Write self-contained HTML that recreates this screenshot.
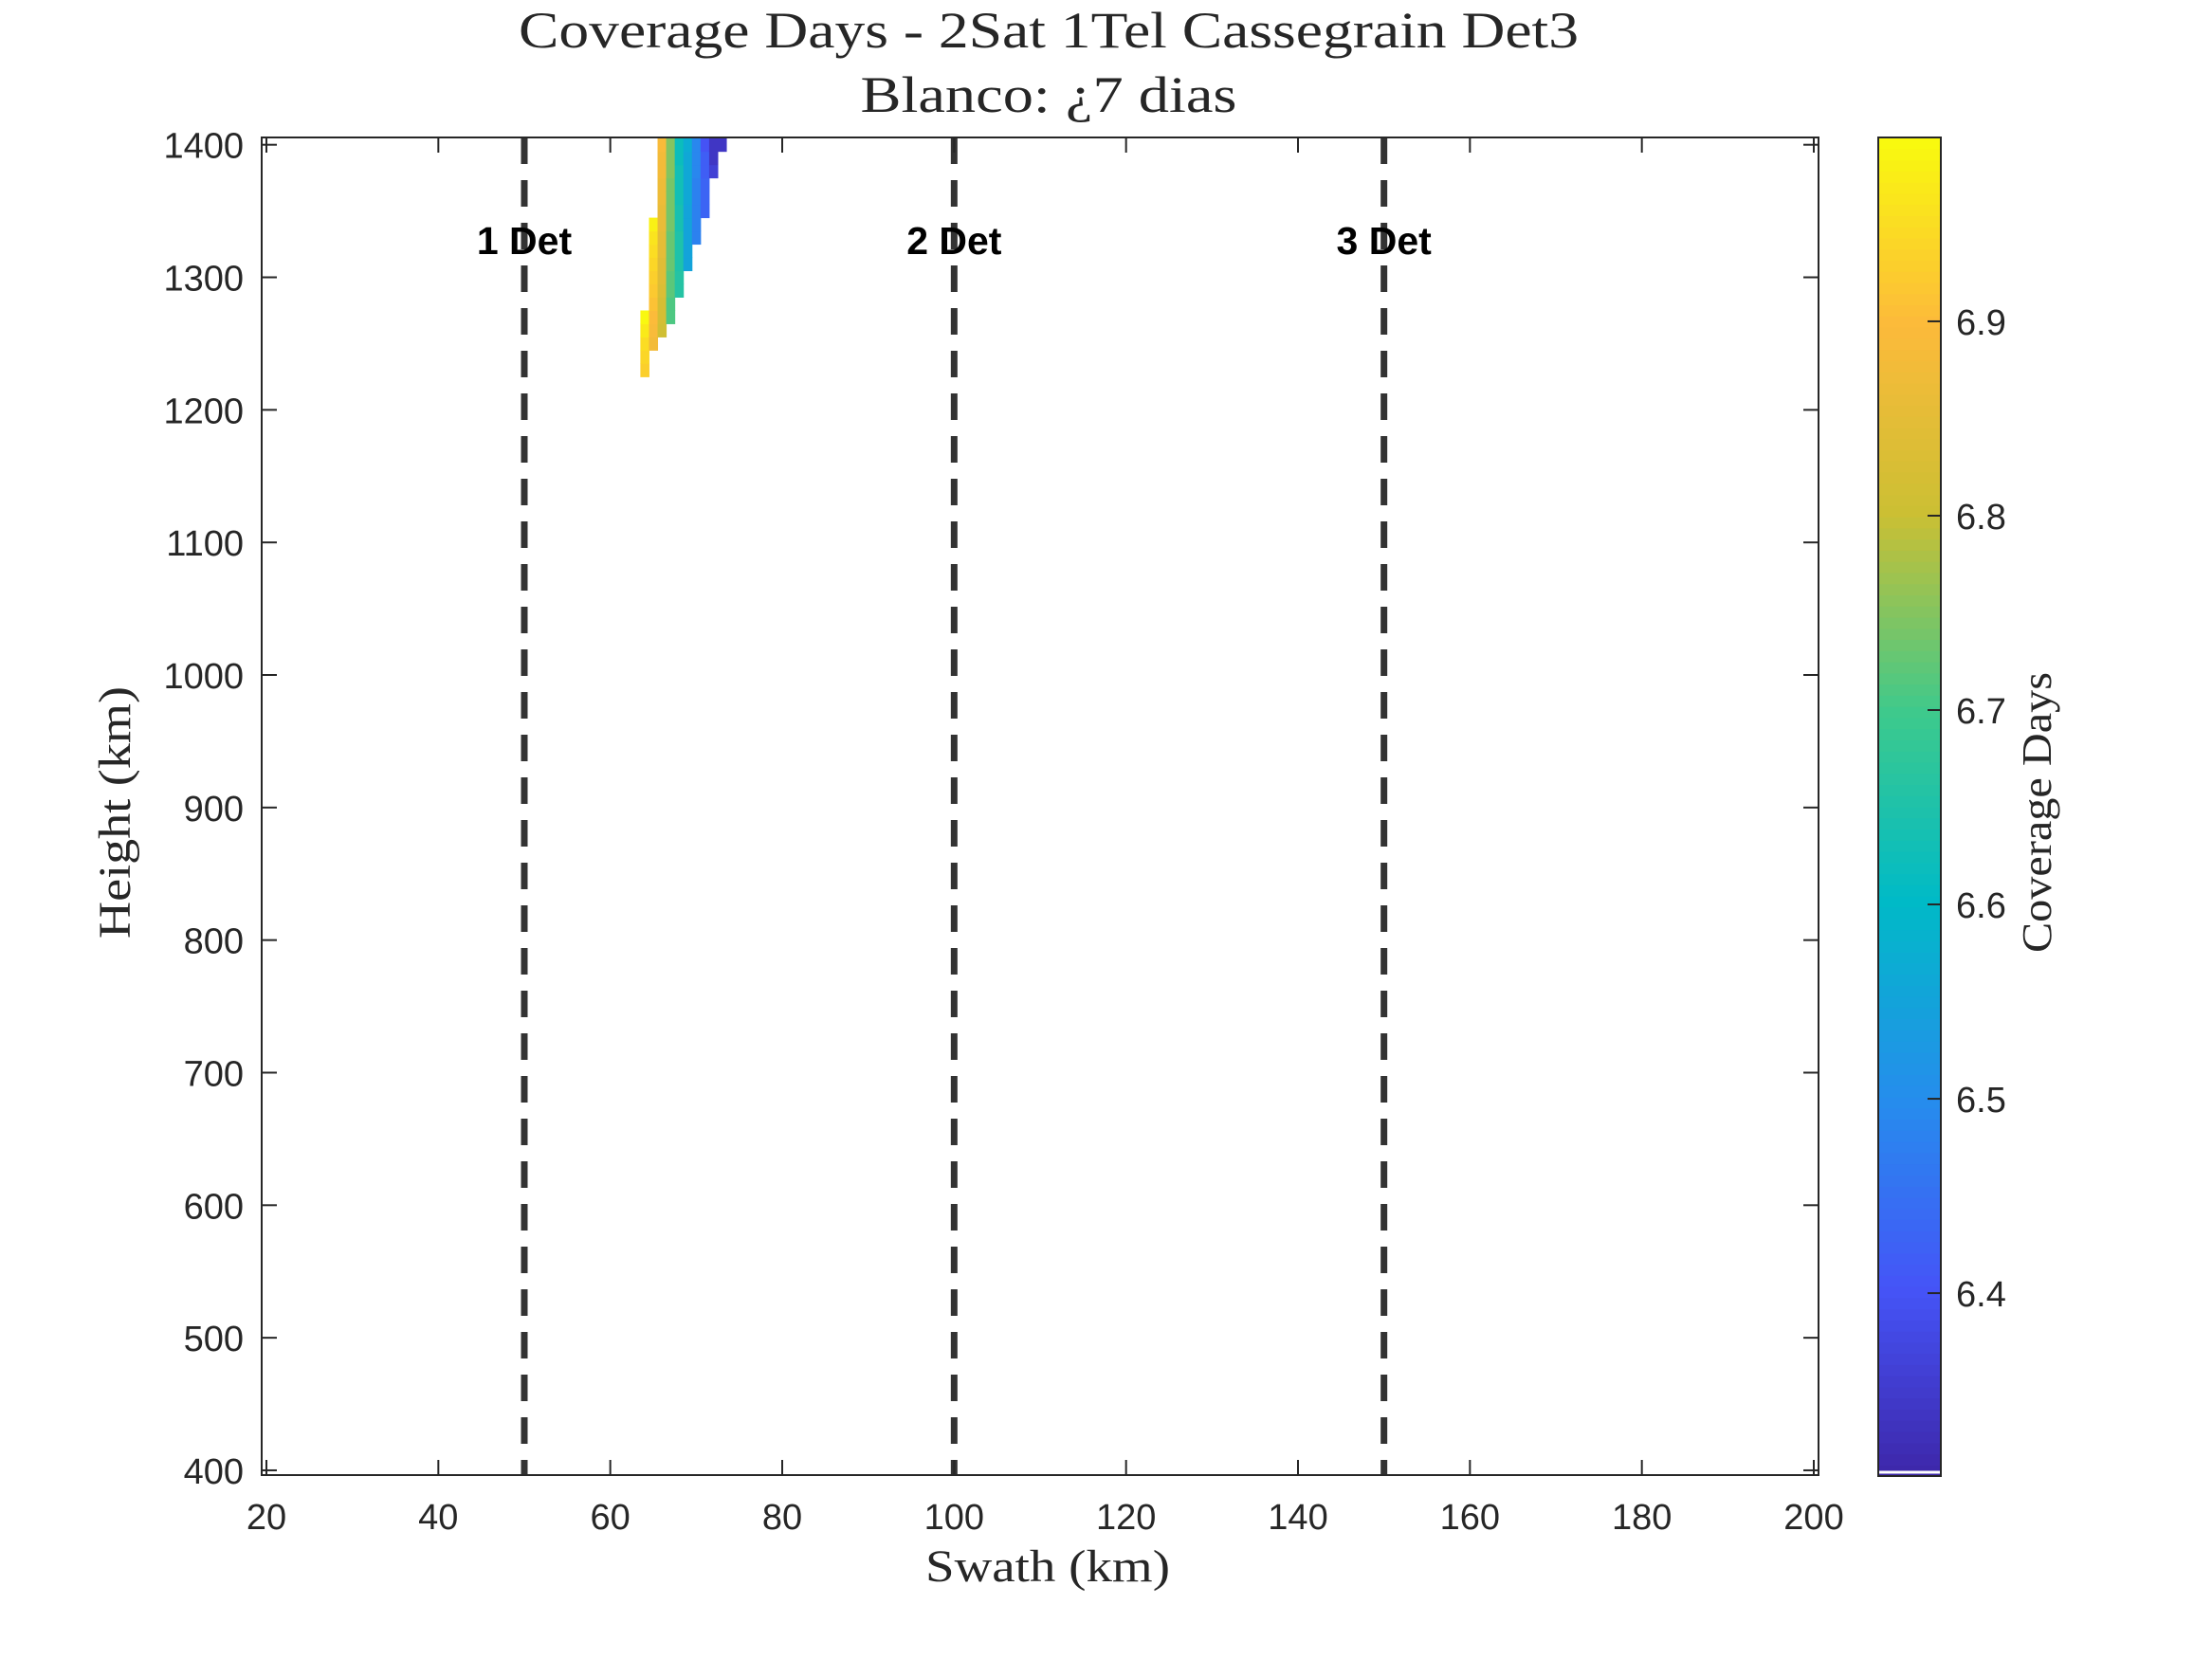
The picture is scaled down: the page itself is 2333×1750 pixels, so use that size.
<!DOCTYPE html>
<html><head><meta charset="utf-8"><style>
html,body{margin:0;padding:0;background:#fff}
svg{display:block}
.tk{font-family:"Liberation Sans",Arial,sans-serif;font-size:38px;fill:#262626}
.sf{font-family:"Liberation Serif",serif;fill:#262626}
</style></head><body>
<svg id="chart" width="2333" height="1750" xmlns="http://www.w3.org/2000/svg">
<g id="cells"></g>
<g id="axes"></g>
<g id="cbar"></g>
<text class="sf" x="1106" y="50" font-size="54" text-anchor="middle" textLength="1118" lengthAdjust="spacingAndGlyphs">Coverage Days - 2Sat 1Tel Cassegrain Det3</text>
<text class="sf" x="1106" y="118" font-size="54" text-anchor="middle" textLength="397" lengthAdjust="spacingAndGlyphs">Blanco: ¿7 dias</text>
<text class="sf" x="1105" y="1668" font-size="48" text-anchor="middle" textLength="258" lengthAdjust="spacingAndGlyphs">Swath (km)</text>
<text class="sf" x="0" y="0" font-size="48" text-anchor="middle" textLength="266" lengthAdjust="spacingAndGlyphs" transform="translate(137,857) rotate(-90)">Height (km)</text>
<text class="sf" x="0" y="0" font-size="44" text-anchor="middle" textLength="296" lengthAdjust="spacingAndGlyphs" transform="translate(2163,857) rotate(-90)">Coverage Days</text>
</svg>
<script>
const swaths=[64,65,66,67,68,69,70,71,72,73];
const heights=[1230,1240,1250,1260,1270,1280,1290,1300,1310,1320,1330,1340,1350,1360,1370,1380,1390,1400];
// values per swath column, bottom (1230) to top (1400); null = empty (white)
const col64=[6.93,6.94,6.95,6.97,6.99,null,null,null,null,null,null,null,null,null,null,null,null,null];
const col65=[null,null,6.88,6.89,6.90,6.91,6.92,6.93,6.94,6.95,6.96,6.98,null,null,null,null,null,null];
const col66=[null,null,null,6.81,6.82,6.82,6.83,6.84,6.84,6.85,6.85,6.86,6.86,6.87,6.87,6.88,6.88,6.89];
const col67=[null,null,null,null,6.71,6.71,6.72,6.72,6.73,6.73,6.73,6.74,6.74,6.74,6.74,6.75,6.75,6.75];
const col68=[null,null,null,null,null,null,6.66,6.66,6.65,6.65,6.65,6.64,6.64,6.63,6.63,6.63,6.62,6.62];
const col69=[null,null,null,null,null,null,null,null,6.55,6.55,6.55,6.55,6.55,6.56,6.56,6.56,6.56,6.57];
const col70=[null,null,null,null,null,null,null,null,null,null,6.48,6.48,6.48,6.48,6.48,6.49,6.49,6.49];
const col71=[null,null,null,null,null,null,null,null,null,null,null,null,6.43,6.43,6.43,6.42,6.42,6.40];
const col72=[null,null,null,null,null,null,null,null,null,null,null,null,null,null,null,6.36,6.34,6.34];
const col73=[null,null,null,null,null,null,null,null,null,null,null,null,null,null,null,null,null,6.34];
const columns=[col64,col65,col66,col67,col68,col69,col70,col71,col72,col73];
const detLines=[50,100,150];
const detLabels=["1 Det","2 Det","3 Det"];
const xTicks=[20,40,60,80,100,120,140,160,180,200];
const yTicks=[400,500,600,700,800,900,1000,1100,1200,1300,1400];
const cTicks=[6.4,6.5,6.6,6.7,6.8,6.9];

const NS="http://www.w3.org/2000/svg";
const L=276,R=1918,T=145,B=1556;
const xMin=19.45,xMax=200.55,yMin=396.4,yMax=1405.5;
const cMin=6.3059,cMax=6.9946;
const CL=1981,CR=2047,CB=1557;
const sx=v=>L+(v-xMin)/(xMax-xMin)*(R-L);
const sy=v=>B-(v-yMin)/(yMax-yMin)*(B-T);
const sc=v=>CB-(v-cMin)/(cMax-cMin)*(CB-T);
const stopPos=[0,0.14,0.28,0.43,0.57,0.72,0.86,1];
const stopCol=[[0.24,0.15,0.66],[0.27,0.33,0.97],[0.15,0.55,0.93],[0.0,0.73,0.78],[0.24,0.79,0.55],[0.80,0.75,0.20],[0.99,0.73,0.23],[0.976,0.983,0.054]];
function parula(t){t=Math.max(0,Math.min(1,t));let i=0;while(i<stopPos.length-2&&t>stopPos[i+1])i++;
const f=(t-stopPos[i])/(stopPos[i+1]-stopPos[i]);
const c=stopCol[i].map((a,k)=>Math.round(255*(a+(stopCol[i+1][k]-a)*f)));return `rgb(${c[0]},${c[1]},${c[2]})`;}
function mk(tag,attrs,parent){const e=document.createElementNS(NS,tag);for(const k in attrs)e.setAttribute(k,attrs[k]);parent.appendChild(e);return e;}

const cells=document.getElementById('cells');
columns.forEach((col,ci)=>{col.forEach((v,ri)=>{if(v===null)return;
const x0=sx(swaths[ci]-0.5),x1=sx(swaths[ci]+0.5);
const y0=Math.max(T,sy(heights[ri]+5)),y1=sy(heights[ri]-5);
const r=mk('rect',{x:x0,y:y0,width:x1-x0+0.5,height:y1-y0+0.5,fill:parula((v-cMin)/(cMax-cMin))},cells);


});});

const ax=document.getElementById('axes');
detLines.forEach((d,i)=>{
const ln=mk('line',{x1:sx(d),x2:sx(d),y1:T,y2:B,stroke:'#333',"stroke-width":7,"stroke-dasharray":"28,17"},ax);


const t=mk('text',{x:sx(d),y:268,"text-anchor":"middle","font-family":"Liberation Sans,Arial,sans-serif","font-weight":"bold","font-size":"41",fill:"#000"},ax);
t.textContent=detLabels[i];


});
const box=mk('rect',{x:L,y:T,width:R-L,height:B-T,fill:'none',stroke:'#262626',"stroke-width":2},ax);


xTicks.forEach(v=>{const x=sx(v);
mk('line',{x1:x,x2:x,y1:B,y2:B-16,stroke:'#262626',"stroke-width":2},ax);
mk('line',{x1:x,x2:x,y1:T,y2:T+16,stroke:'#262626',"stroke-width":2},ax);
const t=mk('text',{x:x,y:1613,"text-anchor":"middle",class:"tk"},ax);t.textContent=v;


});
yTicks.forEach(v=>{const y=sy(v);
mk('line',{x1:L,x2:L+16,y1:y,y2:y,stroke:'#262626',"stroke-width":2},ax);
mk('line',{x1:R,x2:R-16,y1:y,y2:y,stroke:'#262626',"stroke-width":2},ax);
const t=mk('text',{x:257,y:y+14,"text-anchor":"end",class:"tk"},ax);t.textContent=v;


});

const cb=document.getElementById('cbar');
const N=120;
for(let i=0;i<N;i++){const v0=cMin+(cMax-cMin)*i/N,v1=cMin+(cMax-cMin)*(i+1)/N;
mk('rect',{x:CL,y:sc(v1),width:CR-CL,height:sc(v0)-sc(v1)+0.6,fill:parula((i+0.5)/N)},cb);}
mk('line',{x1:CL,x2:CR,y1:CB-4,y2:CB-4,stroke:'#fff',"stroke-width":3},cb);
const cbox=mk('rect',{x:CL,y:T,width:CR-CL,height:CB-T,fill:'none',stroke:'#262626',"stroke-width":2},cb);


cTicks.forEach(v=>{const y=sc(v);
mk('line',{x1:CR,x2:CR-14,y1:y,y2:y,stroke:'#262626',"stroke-width":2},cb);
const t=mk('text',{x:2063,y:y+14,class:"tk"},cb);t.textContent=v.toFixed(1);


});
</script>
</body></html>
